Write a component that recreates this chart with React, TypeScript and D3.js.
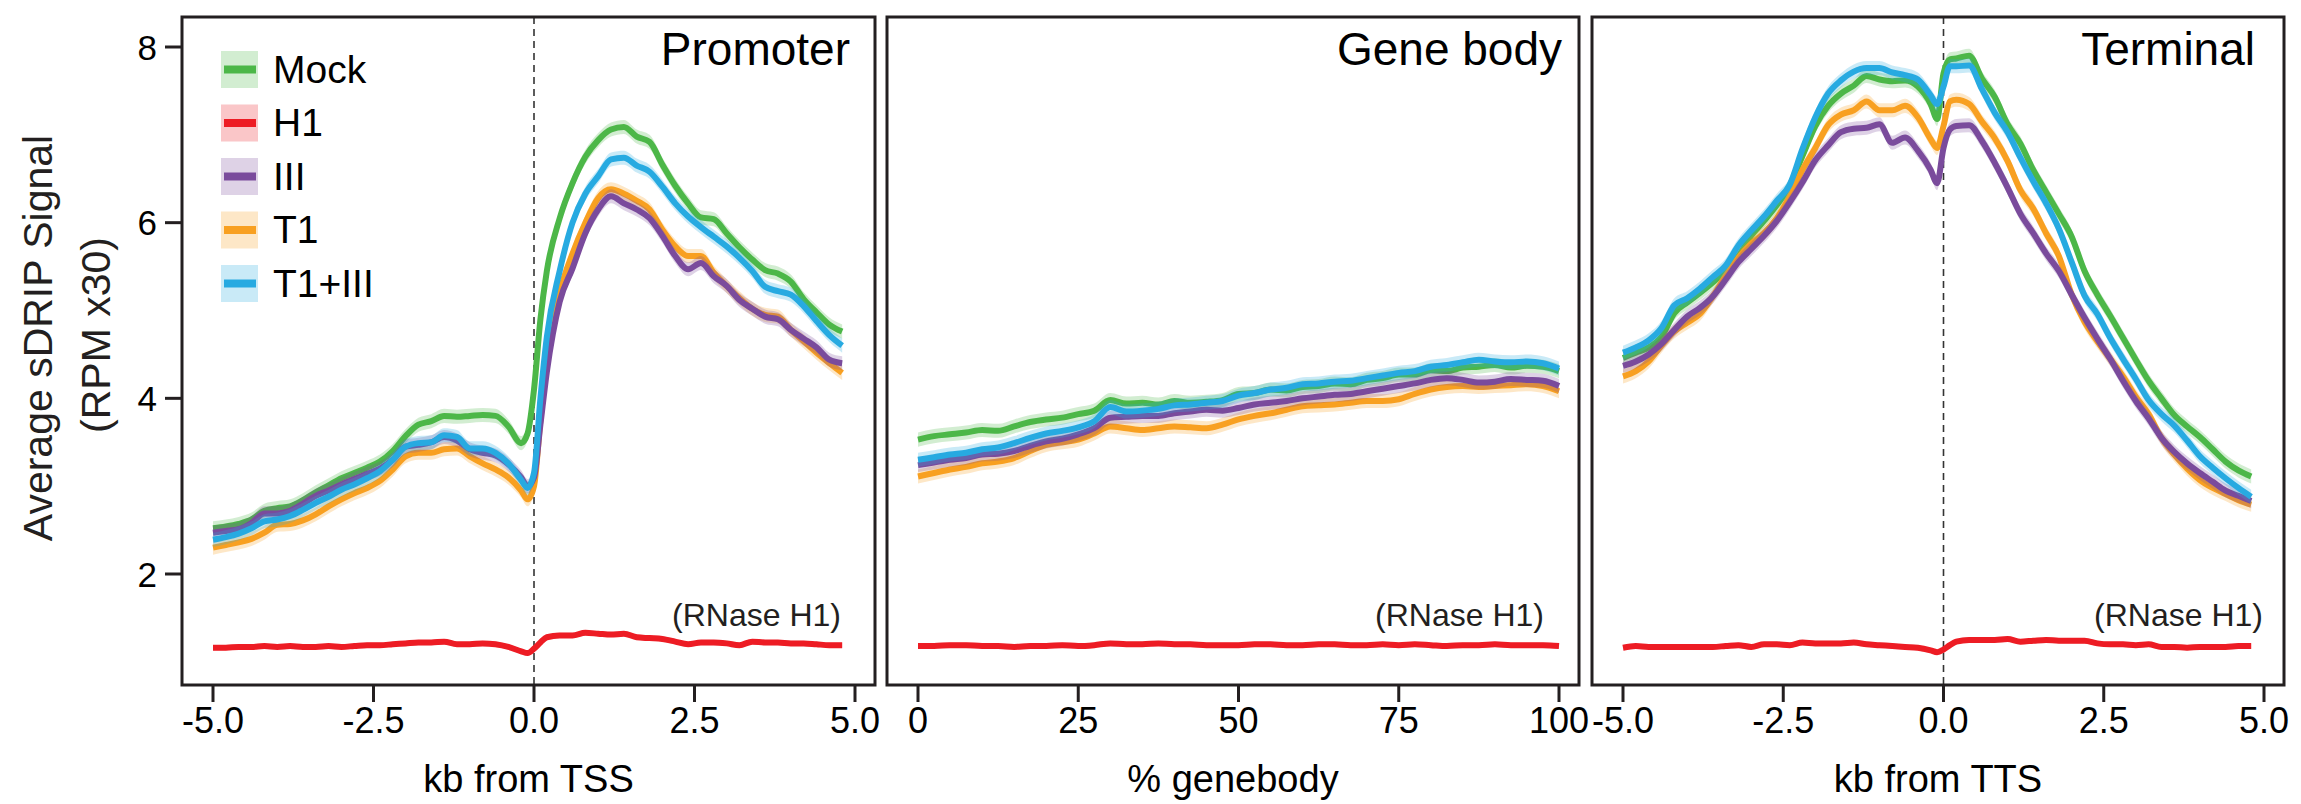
import React from "react";
import * as d3 from "d3";

// ---------- DATA ----------
const SERIES = ["Mock", "H1", "III", "T1", "T1+III"];
const COLORS = ["#4cb748", "#ed1c24", "#7a4b9c", "#f8a021", "#27aae1"];
const BAND = [0.08, 0.03, 0.08, 0.08, 0.08];

const KB = [-5.0, -4.8, -4.6, -4.4, -4.2, -4.0, -3.8, -3.6, -3.4, -3.2, -3.0, -2.8, -2.6, -2.4, -2.2, -2.0, -1.8, -1.6, -1.4, -1.2, -1.0, -0.8, -0.6, -0.4, -0.2, -0.1, 0.0, 0.1, 0.2, 0.4, 0.6, 0.8, 1.0, 1.2, 1.4, 1.6, 1.8, 2.0, 2.2, 2.4, 2.6, 2.8, 3.0, 3.2, 3.4, 3.6, 3.8, 4.0, 4.2, 4.4, 4.6, 4.8];

const PCT = [0, 2.5, 5, 7.5, 10, 12.5, 15, 17.5, 20, 22.5, 25, 27.5, 30, 32.5, 35, 37.5, 40, 42.5, 45, 47.5, 50, 52.5, 55, 57.5, 60, 62.5, 65, 67.5, 70, 72.5, 75, 77.5, 80, 82.5, 85, 87.5, 90, 92.5, 95, 97.5, 100];

// Promoter (kb from TSS)
const PROM_MOCK = [2.52, 2.54, 2.57, 2.62, 2.72, 2.75, 2.77, 2.84, 2.93, 3.01, 3.09, 3.15, 3.21, 3.28, 3.40, 3.57, 3.70, 3.74, 3.80, 3.79, 3.80, 3.81, 3.80, 3.68, 3.49, 3.60, 4.10, 4.90, 5.45, 6.05, 6.45, 6.75, 6.94, 7.06, 7.09, 6.98, 6.92, 6.66, 6.42, 6.22, 6.06, 6.04, 5.88, 5.72, 5.58, 5.46, 5.42, 5.33, 5.13, 4.98, 4.84, 4.76];
const PROM_H1 = [1.16, 1.16, 1.17, 1.17, 1.18, 1.17, 1.18, 1.17, 1.17, 1.18, 1.17, 1.18, 1.19, 1.19, 1.20, 1.21, 1.22, 1.22, 1.23, 1.20, 1.20, 1.21, 1.20, 1.17, 1.12, 1.10, 1.15, 1.22, 1.28, 1.30, 1.30, 1.33, 1.32, 1.31, 1.32, 1.28, 1.27, 1.26, 1.23, 1.20, 1.22, 1.22, 1.21, 1.19, 1.23, 1.22, 1.22, 1.21, 1.21, 1.20, 1.19, 1.19];
const PROM_III = [2.47, 2.49, 2.51, 2.58, 2.69, 2.69, 2.72, 2.80, 2.89, 2.95, 3.02, 3.08, 3.14, 3.20, 3.30, 3.45, 3.47, 3.50, 3.56, 3.52, 3.42, 3.38, 3.35, 3.25, 3.10, 3.00, 3.10, 3.70, 4.30, 5.10, 5.48, 5.88, 6.15, 6.30, 6.22, 6.15, 6.05, 5.85, 5.62, 5.47, 5.54, 5.39, 5.28, 5.12, 5.02, 4.93, 4.90, 4.78, 4.68, 4.58, 4.44, 4.40];
const PROM_T1 = [2.30, 2.33, 2.36, 2.40, 2.47, 2.56, 2.57, 2.61, 2.68, 2.77, 2.85, 2.92, 2.98, 3.06, 3.19, 3.34, 3.38, 3.38, 3.42, 3.43, 3.34, 3.26, 3.19, 3.10, 2.95, 2.85, 3.00, 3.75, 4.40, 5.20, 5.65, 6.00, 6.28, 6.38, 6.33, 6.25, 6.15, 5.92, 5.73, 5.62, 5.62, 5.43, 5.28, 5.14, 5.02, 4.95, 4.93, 4.78, 4.65, 4.52, 4.40, 4.29];
const PROM_T1III = [2.39, 2.42, 2.46, 2.52, 2.60, 2.62, 2.66, 2.73, 2.81, 2.88, 2.96, 3.02, 3.09, 3.17, 3.30, 3.45, 3.49, 3.50, 3.58, 3.56, 3.43, 3.43, 3.38, 3.26, 3.07, 2.98, 3.15, 4.00, 4.70, 5.45, 6.00, 6.33, 6.53, 6.72, 6.74, 6.65, 6.58, 6.41, 6.22, 6.07, 5.95, 5.84, 5.73, 5.60, 5.45, 5.27, 5.22, 5.18, 5.05, 4.88, 4.72, 4.60];

// Gene body (% genebody)
const BODY_MOCK = [3.53, 3.57, 3.59, 3.61, 3.64, 3.63, 3.68, 3.73, 3.76, 3.78, 3.82, 3.86, 3.98, 3.94, 3.95, 3.93, 3.97, 3.95, 3.96, 3.98, 4.05, 4.06, 4.10, 4.09, 4.13, 4.14, 4.17, 4.16, 4.21, 4.23, 4.27, 4.27, 4.32, 4.31, 4.35, 4.36, 4.38, 4.35, 4.37, 4.36, 4.31];
const BODY_H1 = [1.18, 1.18, 1.19, 1.19, 1.18, 1.18, 1.17, 1.18, 1.18, 1.19, 1.18, 1.19, 1.21, 1.20, 1.20, 1.21, 1.20, 1.20, 1.19, 1.19, 1.19, 1.20, 1.20, 1.19, 1.19, 1.20, 1.20, 1.19, 1.19, 1.20, 1.19, 1.20, 1.19, 1.18, 1.19, 1.19, 1.20, 1.19, 1.19, 1.19, 1.18];
const BODY_III = [3.24, 3.27, 3.30, 3.32, 3.36, 3.37, 3.40, 3.46, 3.51, 3.54, 3.59, 3.66, 3.78, 3.79, 3.80, 3.80, 3.83, 3.85, 3.87, 3.86, 3.89, 3.93, 3.95, 3.97, 4.00, 4.02, 4.04, 4.05, 4.08, 4.11, 4.14, 4.17, 4.21, 4.23, 4.21, 4.18, 4.19, 4.22, 4.21, 4.20, 4.14];
const BODY_T1 = [3.11, 3.15, 3.19, 3.22, 3.26, 3.28, 3.32, 3.40, 3.47, 3.50, 3.53, 3.60, 3.68, 3.66, 3.64, 3.66, 3.68, 3.67, 3.66, 3.70, 3.76, 3.80, 3.83, 3.87, 3.91, 3.92, 3.93, 3.95, 3.97, 3.97, 3.99, 4.05, 4.10, 4.13, 4.14, 4.13, 4.14, 4.15, 4.16, 4.14, 4.08];
const BODY_T1III = [3.30, 3.33, 3.36, 3.38, 3.42, 3.44, 3.49, 3.55, 3.60, 3.63, 3.67, 3.74, 3.90, 3.85, 3.86, 3.88, 3.92, 3.93, 3.95, 3.97, 4.03, 4.06, 4.10, 4.12, 4.16, 4.17, 4.19, 4.20, 4.23, 4.26, 4.29, 4.31, 4.36, 4.38, 4.41, 4.44, 4.42, 4.41, 4.42, 4.40, 4.34];

// Terminal (kb from TTS)
const TERM_MOCK = [4.46, 4.52, 4.58, 4.70, 4.97, 5.09, 5.20, 5.32, 5.45, 5.62, 5.85, 6.02, 6.20, 6.42, 6.76, 7.10, 7.33, 7.47, 7.56, 7.67, 7.63, 7.61, 7.62, 7.55, 7.35, 7.18, 7.70, 7.86, 7.87, 7.90, 7.64, 7.43, 7.12, 6.90, 6.60, 6.35, 6.10, 5.84, 5.45, 5.18, 4.94, 4.69, 4.44, 4.20, 4.00, 3.81, 3.68, 3.56, 3.42, 3.28, 3.18, 3.11];
const TERM_H1 = [1.16, 1.18, 1.17, 1.17, 1.17, 1.17, 1.17, 1.17, 1.18, 1.19, 1.17, 1.20, 1.20, 1.19, 1.22, 1.21, 1.21, 1.21, 1.22, 1.20, 1.19, 1.18, 1.17, 1.16, 1.13, 1.11, 1.14, 1.19, 1.23, 1.25, 1.25, 1.25, 1.26, 1.23, 1.24, 1.25, 1.24, 1.24, 1.24, 1.21, 1.20, 1.20, 1.19, 1.20, 1.17, 1.17, 1.16, 1.17, 1.17, 1.17, 1.18, 1.18];
const TERM_III = [4.37, 4.42, 4.50, 4.62, 4.78, 4.93, 5.03, 5.16, 5.35, 5.55, 5.70, 5.85, 6.02, 6.23, 6.46, 6.71, 6.88, 7.03, 7.07, 7.08, 7.12, 6.91, 6.97, 6.82, 6.60, 6.45, 6.85, 7.06, 7.10, 7.11, 6.93, 6.68, 6.40, 6.10, 5.88, 5.65, 5.45, 5.18, 4.92, 4.68, 4.45, 4.20, 3.97, 3.77, 3.55, 3.39, 3.26, 3.15, 3.05, 2.95, 2.89, 2.83];
const TERM_T1 = [4.25, 4.31, 4.42, 4.60, 4.76, 4.86, 4.96, 5.16, 5.39, 5.60, 5.76, 5.88, 6.05, 6.30, 6.60, 6.85, 7.11, 7.23, 7.28, 7.38, 7.28, 7.28, 7.33, 7.20, 6.95, 6.85, 7.10, 7.38, 7.40, 7.35, 7.15, 6.96, 6.70, 6.37, 6.16, 5.88, 5.62, 5.18, 4.87, 4.65, 4.45, 4.25, 4.02, 3.82, 3.55, 3.36, 3.20, 3.07, 2.98, 2.91, 2.84, 2.79];
const TERM_T1III = [4.52, 4.58, 4.66, 4.80, 5.06, 5.14, 5.25, 5.38, 5.51, 5.74, 5.91, 6.07, 6.25, 6.43, 6.84, 7.20, 7.47, 7.62, 7.72, 7.76, 7.76, 7.71, 7.68, 7.63, 7.45, 7.35, 7.55, 7.78, 7.78, 7.79, 7.52, 7.25, 7.03, 6.74, 6.47, 6.22, 5.93, 5.55, 5.17, 4.96, 4.69, 4.45, 4.22, 3.98, 3.82, 3.69, 3.52, 3.34, 3.21, 3.09, 2.98, 2.88];

const KB_TICKS = [-5, -2.5, 0, 2.5, 5];
const PCT_TICKS = [0, 25, 50, 75, 100];
const Y_TICKS = [2, 4, 6, 8];

// ---------- LAYOUT ----------
const FONT = "'Liberation Sans', Arial, Helvetica, sans-serif";
const TOP = 17;
const BOTTOM = 685;
const DRAW_ORDER = [0, 3, 2, 4, 1];

const PANELS = [
  { left: 182, right: 875, xs: KB, domain: [-5, 5], ticks: KB_TICKS, fmt: (d: number) => d.toFixed(1), title: "Promoter", titleX: 850, xlabel: "kb from TSS", rnaseX: 841, dashed: true, ys: [PROM_MOCK, PROM_H1, PROM_III, PROM_T1, PROM_T1III] },
  { left: 887, right: 1579, xs: PCT, domain: [0, 100], ticks: PCT_TICKS, fmt: (d: number) => String(d), title: "Gene body", titleX: 1562, xlabel: "% genebody", rnaseX: 1544, dashed: false, ys: [BODY_MOCK, BODY_H1, BODY_III, BODY_T1, BODY_T1III] },
  { left: 1592, right: 2284, xs: KB, domain: [-5, 5], ticks: KB_TICKS, fmt: (d: number) => d.toFixed(1), title: "Terminal", titleX: 2255, xlabel: "kb from TTS", rnaseX: 2263, dashed: true, ys: [TERM_MOCK, TERM_H1, TERM_III, TERM_T1, TERM_T1III] },
];

const y = d3.scaleLinear().domain([2, 8]).range([574, 47]);

function Panel({ p }: { p: typeof PANELS[number] }) {
  const x = d3.scaleLinear().domain(p.domain).range([p.left + 31, p.right - 20]);
  const line = d3.line<number>().x((_, i) => x(p.xs[i])).y((v) => y(v)).curve(d3.curveMonotoneX);
  return (
    <g>
      {p.dashed && (
        <line x1={x(0)} x2={x(0)} y1={TOP} y2={BOTTOM} stroke="#333" strokeWidth={1.6} strokeDasharray="7,5" />
      )}
      {DRAW_ORDER.map((si) => {
        const vals = p.ys[si];
        const area = d3
          .area<number>()
          .x((_, i) => x(p.xs[i]))
          .y0((v) => y(v - BAND[si]))
          .y1((v) => y(v + BAND[si]))
          .curve(d3.curveMonotoneX);
        return (
          <g key={si}>
            <path d={area(vals) || ""} fill={COLORS[si]} fillOpacity={0.25} stroke="none" />
            <path d={line(vals) || ""} fill="none" stroke={COLORS[si]} strokeWidth={6} strokeLinejoin="round" />
          </g>
        );
      })}
      <rect x={p.left} y={TOP} width={p.right - p.left} height={BOTTOM - TOP} fill="none" stroke="#231f20" strokeWidth={3} />
      {p.ticks.map((t) => (
        <g key={t}>
          <line x1={x(t)} x2={x(t)} y1={BOTTOM} y2={BOTTOM + 17} stroke="#231f20" strokeWidth={3} />
          <text x={x(t)} y={733} textAnchor="middle" fontSize={36} fontFamily={FONT} fill="#000">
            {p.fmt(t)}
          </text>
        </g>
      ))}
      <text x={(p.left + p.right) / 2} y={792} textAnchor="middle" fontSize={38} fontFamily={FONT} fill="#000">
        {p.xlabel}
      </text>
      <text x={p.titleX} y={65} textAnchor="end" fontSize={46} fontFamily={FONT} fill="#000">
        {p.title}
      </text>
      <text x={p.rnaseX} y={626} textAnchor="end" fontSize={32} fontFamily={FONT} fill="#231f20">
        (RNase H1)
      </text>
    </g>
  );
}

export default function App() {
  const left = PANELS[0].left;
  return (
    <svg width={2301} height={804} style={{ position: "absolute", left: 0, top: 0, background: "#fff" }}>
      <rect x={0} y={0} width={2301} height={804} fill="#fff" />
      {PANELS.map((p) => (
        <Panel key={p.title} p={p} />
      ))}
      {/* y axis */}
      {Y_TICKS.map((t) => (
        <g key={t}>
          <line x1={left - 17} x2={left} y1={y(t)} y2={y(t)} stroke="#231f20" strokeWidth={3} />
          <text x={157} y={y(t)} dy="0.36em" textAnchor="end" fontSize={35} fontFamily={FONT} fill="#000">
            {t}
          </text>
        </g>
      ))}
      <text transform="translate(52,338) rotate(-90)" textAnchor="middle" fontSize={41} fontFamily={FONT} fill="#231f20">
        Average sDRIP Signal
      </text>
      <text transform="translate(110,335) rotate(-90)" textAnchor="middle" fontSize={41} fontFamily={FONT} fill="#231f20">
        (RPM x30)
      </text>
      {/* legend */}
      {SERIES.map((s, i) => {
        const cy = 69.5 + i * 53.5;
        return (
          <g key={s}>
            <rect x={221} y={cy - 18.5} width={37} height={37} fill={COLORS[i]} fillOpacity={0.25} />
            <line x1={224} x2={256} y1={cy} y2={cy} stroke={COLORS[i]} strokeWidth={8} />
            <text x={273} y={cy + 13} fontSize={39} fontFamily={FONT} fill="#000">
              {s}
            </text>
          </g>
        );
      })}
    </svg>
  );
}
